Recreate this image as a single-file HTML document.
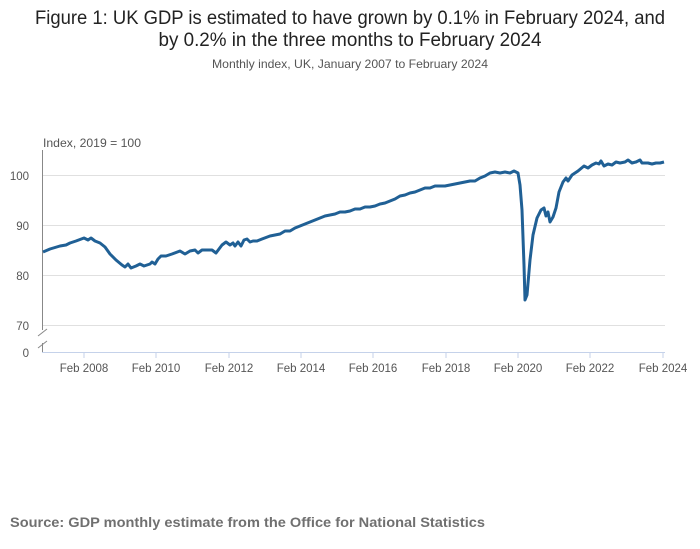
<!DOCTYPE html>
<html><head><meta charset="utf-8"><style>
html,body{margin:0;padding:0;background:#fff;}
svg{display:block;font-family:"Liberation Sans",sans-serif;}
</style></head><body>
<svg width="700" height="549" viewBox="0 0 700 549">
<text x="350" y="24" font-size="19" fill="#222" text-anchor="middle" textLength="630" lengthAdjust="spacingAndGlyphs">Figure 1: UK GDP is estimated to have grown by 0.1% in February 2024, and</text>
<text x="350" y="46" font-size="19" fill="#222" text-anchor="middle" textLength="383" lengthAdjust="spacingAndGlyphs">by 0.2% in the three months to February 2024</text>
<text x="350" y="68" font-size="12" fill="#555" text-anchor="middle" textLength="276" lengthAdjust="spacingAndGlyphs">Monthly index, UK, January 2007 to February 2024</text>
<text x="43" y="147" font-size="12" fill="#555" textLength="98" lengthAdjust="spacingAndGlyphs">Index, 2019 = 100</text>
<g stroke="#e0e0e0" stroke-width="1">
<line x1="43" x2="665" y1="175.5" y2="175.5"/>
<line x1="43" x2="665" y1="225.5" y2="225.5"/>
<line x1="43" x2="665" y1="275.5" y2="275.5"/>
<line x1="43" x2="665" y1="325.5" y2="325.5"/>
</g>
<g font-size="11.5" fill="#555" text-anchor="end">
<text x="29" y="180">100</text>
<text x="29" y="230">90</text>
<text x="29" y="280">80</text>
<text x="29" y="330">70</text>
<text x="29" y="357">0</text>
</g>
<line x1="42.5" y1="150" x2="42.5" y2="330" stroke="#888" stroke-width="1"/>
<line x1="42.5" y1="343" x2="42.5" y2="352" stroke="#888" stroke-width="1"/>
<line x1="38" y1="336" x2="47" y2="329" stroke="#888"/>
<line x1="38" y1="348" x2="47" y2="341" stroke="#888"/>
<line x1="42" y1="352.5" x2="665" y2="352.5" stroke="#c5d2ea" stroke-width="1"/>
<g stroke="#c5d2ea">
<line x1="84" x2="84" y1="352" y2="358"/><line x1="156" x2="156" y1="352" y2="358"/>
<line x1="229" x2="229" y1="352" y2="358"/><line x1="301" x2="301" y1="352" y2="358"/>
<line x1="373" x2="373" y1="352" y2="358"/><line x1="446" x2="446" y1="352" y2="358"/>
<line x1="518" x2="518" y1="352" y2="358"/><line x1="590" x2="590" y1="352" y2="358"/>
<line x1="663" x2="663" y1="352" y2="358"/>
</g>
<g font-size="11.5" fill="#555" text-anchor="middle">
<text x="84" y="372">Feb 2008</text><text x="156" y="372">Feb 2010</text>
<text x="229" y="372">Feb 2012</text><text x="301" y="372">Feb 2014</text>
<text x="373" y="372">Feb 2016</text><text x="446" y="372">Feb 2018</text>
<text x="518" y="372">Feb 2020</text><text x="590" y="372">Feb 2022</text>
<text x="663" y="372">Feb 2024</text>
</g>
<polyline fill="none" stroke="#206095" stroke-width="3" stroke-linejoin="round" points="43,252 50,249 60,246 66,245 70,243 76,241 84,238 88,240 91,238 95,241 100,243 105,247 110,254 116,260 122,265 125,267 128,264 131,268 136,266 140,264 144,266 150,264 152,262 155,264 158,259 161,256 166,256 172,254 180,251 185,254 190,251 195,250 198,253 202,250 212,250 216,253 222,245 226,242 230,245 233,243 235,246 238,242 241,246 244,240 247,239 250,242 253,241 257,241 262,239 270,236 275,235 280,234 285,231 290,231 295,228 300,226 305,224 310,222 315,220 320,218 325,216 330,215 335,214 340,212 345,212 350,211 355,209 360,209 365,207 370,207 375,206 380,204 385,203 390,201 395,199 400,196 405,195 410,193 415,192 420,190 425,188 430,188 435,186 440,186 445,186 450,185 455,184 460,183 465,182 470,181 475,181 480,178 485,176 490,173 495,172 500,173 505,172 510,173 514,171 518,173 520,185 522,210 524,265 525,300 527,295 530,260 533,235 537,218 541,210 544,208 546,216 548,212 550,222 553,217 556,208 559,192 563,182 566,178 568,181 572,175 578,171 584,166 588,168 592,165 596,163 599,164 601,161 604,166 608,164 612,165 616,162 620,163 625,162 628,160 632,163 636,162 640,160 642,163 648,163 652,164 656,163 660,163 664,162"/>
<text x="10" y="527" font-size="14" font-weight="bold" fill="#707070" textLength="475" lengthAdjust="spacingAndGlyphs">Source: GDP monthly estimate from the Office for National Statistics</text>
</svg>
</body></html>
